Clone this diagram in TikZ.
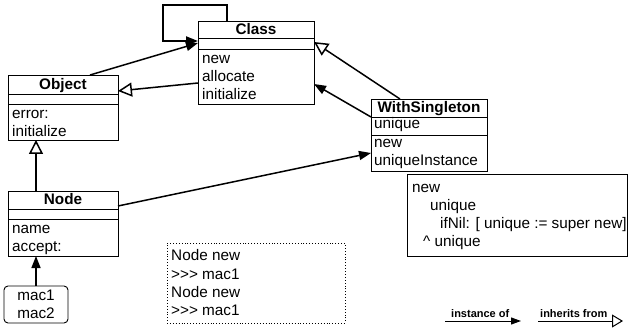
\documentclass[tikz,border=0pt]{standalone}
\usepackage{fontspec}
\setmainfont{Liberation Sans}
\usetikzlibrary{arrows.meta,calc}
\begin{document}
\begin{tikzpicture}[x=1pt,y=-1pt,
  box/.style={draw,line width=0.9pt,inner sep=0pt,outer sep=0pt,anchor=north west},
  divider/.style={line width=0.9pt},
  txt/.style={anchor=base west,inner sep=0pt,font=\fontsize{15.3}{18}\selectfont},
  ttl/.style={anchor=base,inner sep=0pt,font=\fontsize{15.3}{18}\selectfont\bfseries},
  lgd/.style={anchor=base west,inner sep=0pt,font=\fontsize{11}{13}\selectfont\bfseries},
  inst/.style={line width=1.5pt,-{Triangle[length=12pt,width=9pt]}},
  inh/.style={line width=1.5pt,-{Triangle[open,fill=white,length=14pt,width=14pt]}},
  ]
\useasboundingbox (0,0) rectangle (628,328);

% Class
\node[box,minimum width=116pt,minimum height=83pt] (class) at (198,21) {};
\draw[divider] (198,38) -- (314,38);
\draw[divider] (198,49) -- (314,49);
\node[ttl] (classT) at (256,35) {Class};
\node[txt] (classM1) at (202,64) {new};
\node[txt] (classM2) at (202,82) {allocate};
\node[txt] (classM3) at (202,100) {initialize};

% Object
\node[box,minimum width=110pt,minimum height=65pt] (object) at (8,75) {};
\draw[divider] (8,94) -- (118,94);
\draw[divider] (8,104) -- (118,104);
\node[ttl] (objectT) at (63,90) {Object};
\node[txt] (objectM1) at (12,119) {error:};
\node[txt] (objectM2) at (12,137) {initialize};

% Node
\node[box,minimum width=110pt,minimum height=65pt] (node) at (8,191) {};
\draw[divider] (8,209) -- (118,209);
\draw[divider] (8,219.5) -- (118,219.5);
\node[ttl] (nodeT) at (63,205) {Node};
\node[txt] (nodeM1) at (12,234) {name};
\node[txt] (nodeM2) at (12,252) {accept:};

% mac1 mac2
\node[box,rounded corners=4pt,minimum width=64pt,minimum height=37pt] (mac) at (4,286) {};
\node[anchor=base,inner sep=0pt,font=\fontsize{15.3}{18}\selectfont] (mac1) at (36,300) {mac1};
\node[anchor=base,inner sep=0pt,font=\fontsize{15.3}{18}\selectfont] (mac2) at (36,318) {mac2};

% WithSingleton
\node[box,minimum width=116pt,minimum height=72pt] (ws) at (371,99) {};
\draw[divider] (371,117) -- (487,117);
\draw[divider] (371,135) -- (487,135);
\node[ttl] (wsT) at (429,112.5) {WithSingleton};
\node[txt] (wsA) at (374,129) {unique};
\node[txt] (wsM1) at (374,148) {new};
\node[txt] (wsM2) at (374,166) {uniqueInstance};

% code note
\node[box,minimum width=220.5pt,minimum height=82pt] (note) at (407,174) {};
\node[txt] (n1) at (412,193) {new};
\node[txt] (n2) at (430,211) {unique};
\node[txt] (n3) at (440,229) {ifNil: [ unique := super new]};
\node[txt] (n4) at (423,247) {\^{} unique};

% dotted box
\node[box,dotted,line width=0.8pt,minimum width=178pt,minimum height=80pt] (demo) at (167,243) {};
\node[txt] (d1) at (171,261) {Node new};
\node[txt] (d2) at (171,279) {>{}>{}> mac1};
\node[txt] (d3) at (171,297) {Node new};
\node[txt] (d4) at (171,315) {>{}>{}> mac1};

% connectors
\draw[inst,line width=2pt] ($(class.north west)+(29,0)$) |- (163,5) |- ($(class.north west)+(0,20)$);
\draw[inst] ($(object.north west)+(82,0)$) -- ($(class.north west)+(0,22)$);
\draw[inh] ($(class.north west)+(0,62)$) -- ($(object.north east)+(0,16)$);
\draw[inh] ($(node.north west)+(28,0)$) -- ($(object.south west)+(28,0)$);
\draw[inst] (mac.north) -- ($(node.south west)+(28,0)$);
\draw[inst] ($(node.north east)+(0,15)$) -- ($(ws.north west)+(0,54)$);
\draw[inh] ($(ws.north west)+(29,0)$) -- ($(class.north east)+(0,21)$);
\draw[inst] ($(ws.north west)+(0,18)$) -- ($(class.north east)+(0,63)$);

% legend
\coordinate (l1a) at (445,321);
\coordinate (l1b) at (521,321);
\coordinate (l2a) at (538,321);
\coordinate (l2b) at (623,321);
\draw[line width=1pt,-{Triangle[length=10pt,width=7pt]}] (l1a) -- (l1b);
\draw[line width=1pt,-{Triangle[open,fill=white,length=11pt,width=13pt]}] (l2a) -- (l2b);
\node[lgd] (lg1) at (451,317) {instance of};
\node[lgd] (lg2) at (540,317) {inherits from};
\end{tikzpicture}
\end{document}
